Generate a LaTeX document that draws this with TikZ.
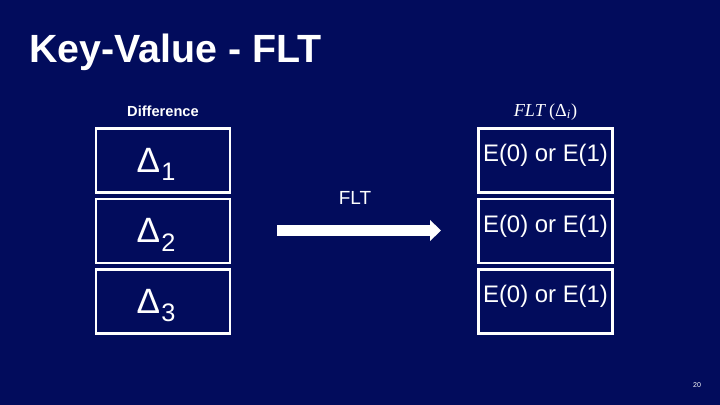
\documentclass[tikz,border=0pt]{standalone}
\usepackage{fontspec}
\setmainfont{Liberation Sans}
\newfontfamily\mathserif{Liberation Serif}
\usepackage{xcolor}
\usetikzlibrary{positioning,calc,arrows.meta}
\definecolor{slidebg}{RGB}{2,12,92}

\newcommand{\dsub}[1]{{\fontsize{25}{27}\selectfont Δ\hspace{1pt}\raisebox{-6pt}{\fontsize{18}{20}\selectfont #1}}}

\begin{document}
\begin{tikzpicture}[
    x=0.025cm, y=-0.025cm,
    node distance=0.1cm,
    stackbox/.style={rectangle, draw=white, line width=1.8pt, minimum width=3.35cm, minimum height=1.6cm, inner sep=0pt},
    diff/.style={text=white, inner sep=0pt},
    enc/.style={text=white, font=\fontsize{17}{19}\selectfont, inner sep=0pt},
    caption/.style={text=white, inner sep=0pt},
    arrow/.style={-{Triangle[length=7.8pt, width=14.5pt]}, line width=7.8pt, draw=white}
]
    \fill[slidebg] (0,0) rectangle (720,405);
    \useasboundingbox (0,0) rectangle (720,405);

    \node[caption, anchor=base west, font=\bfseries\fontsize{28}{30}\selectfont] (title) at (29,63) {Key-Value - FLT};

    % left stack
    \node[stackbox] (box1) at (163,160.5) {};
    \node[stackbox, below=of box1] (box2) {};
    \node[stackbox, below=of box2] (box3) {};
    \node[diff] (diff1) at ($(box1.center)+(-7,4)$) {\dsub{1}};
    \node[diff] (diff2) at ($(box2.center)+(-7,4)$) {\dsub{2}};
    \node[diff] (diff3) at ($(box3.center)+(-7,4)$) {\dsub{3}};
    \node[caption, font=\bfseries\fontsize{10.4}{12}\selectfont, above=0.25cm of box1] (difflabel) {Difference};

    % right stack
    \node[stackbox] (flt1) at (545.5,160.5) {};
    \node[stackbox, below=of flt1] (flt2) {};
    \node[stackbox, below=of flt2] (flt3) {};
    \node[enc] (enc1) at ($(flt1.center)+(0,-5)$) {E(0) or E(1)};
    \node[enc] (enc2) at ($(flt2.center)+(0,-5)$) {E(0) or E(1)};
    \node[enc] (enc3) at ($(flt3.center)+(0,-5)$) {E(0) or E(1)};
    \node[caption, font=\mathserif\fontsize{13}{15}\selectfont, above=0.17cm of flt1] (fltlabel) {\textit{FLT}\,(Δ\textsubscript{\textit{i}})};

    % transform arrow
    \coordinate (arrowstart) at (277,230.5);
    \coordinate (arrowend) at (441,230.5);
    \draw[arrow] (arrowstart) -- (arrowend);
    \node[caption, font=\fontsize{13.5}{15}\selectfont] (arrowlabel) at (355,198) {FLT};

    \node[caption, font=\fontsize{5}{6}\selectfont] (pagenum) at (697,385) {20};
\end{tikzpicture}
\end{document}
